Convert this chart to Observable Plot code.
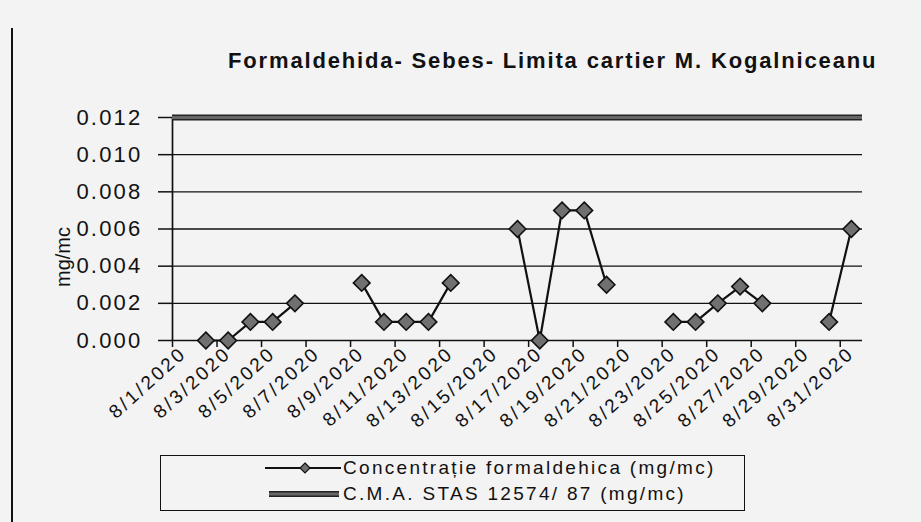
<!DOCTYPE html>
<html>
<head>
<meta charset="utf-8">
<script src="https://cdn.jsdelivr.net/npm/d3@7"></script>
<script src="https://cdn.jsdelivr.net/npm/@observablehq/plot@0.6"></script>
<style>
  html, body { margin: 0; padding: 0; background: #f3f3f3; }
  #page { position: relative; width: 921px; height: 522px; overflow: hidden; font-family: "Liberation Sans", Arial, sans-serif; color: #111; }
  #border { position: absolute; left: 11px; top: 28px; height: 494px; border-left: 2px solid #111; }
  #title { position: absolute; left: 228px; top: 48px; font-weight: bold; font-size: 22px; letter-spacing: 1.85px; white-space: nowrap; }
  #chart { position: absolute; left: 0; top: 80px; }
  #legend { position: absolute; left: 160px; top: 455px; width: 585px; height: 56px; border: 1.5px solid #111; box-sizing: border-box; }
  .row { position: absolute; left: 104px; height: 24px; display: flex; align-items: center; font-size: 19px; letter-spacing: 2.3px; white-space: nowrap; }
  .row svg { margin-right: 2px; }
  #chart g[aria-label="y-axis tick label"] text { letter-spacing: 2.2px; }
  #chart g[aria-label="x-axis tick label"] text { letter-spacing: 2.8px; }
</style>
</head>
<body>
<div id="page">
  <div id="border"></div>
  <div id="title"></div>
  <div id="chart"></div>
  <div id="legend"></div>
</div>
<script>
// ---- data ----
const title = "Formaldehida- Sebes- Limita cartier M. Kogalniceanu";
const yLabel = "mg/mc";
const dates = [
  "8/1/2020","8/2/2020","8/3/2020","8/4/2020","8/5/2020","8/6/2020","8/7/2020","8/8/2020",
  "8/9/2020","8/10/2020","8/11/2020","8/12/2020","8/13/2020","8/14/2020","8/15/2020","8/16/2020",
  "8/17/2020","8/18/2020","8/19/2020","8/20/2020","8/21/2020","8/22/2020","8/23/2020","8/24/2020",
  "8/25/2020","8/26/2020","8/27/2020","8/28/2020","8/29/2020","8/30/2020","8/31/2020"
];
const concentration = [
  null, 0.000, 0.000, 0.001, 0.001, 0.002, null, null,
  0.0031, 0.001, 0.001, 0.001, 0.0031, null, null, 0.006,
  0.000, 0.007, 0.007, 0.003, null, null, 0.001, 0.001,
  0.002, 0.0029, 0.002, null, null, 0.001, 0.006
];
const cmaLimit = 0.012;
const yTicks = [0, 0.002, 0.004, 0.006, 0.008, 0.010, 0.012];
const xTickLabels = [
  "8/1/2020","8/3/2020","8/5/2020","8/7/2020","8/9/2020","8/11/2020","8/13/2020","8/15/2020",
  "8/17/2020","8/19/2020","8/21/2020","8/23/2020","8/25/2020","8/27/2020","8/29/2020","8/31/2020"
];
const seriesNames = ["Concentrație formaldehica (mg/mc)", "C.M.A. STAS 12574/ 87 (mg/mc)"];

// ---- build ----
const dayOf = s => +s.split("/")[1];
const rows = dates.map((d, i) => ({day: dayOf(d), value: concentration[i]}));
const labelDays = xTickLabels.map(dayOf);
const boundaries = labelDays.map(d => d - 0.5);
const firstDay = dayOf(dates[0]), lastDay = dayOf(dates[dates.length - 1]);

document.getElementById("title").textContent = title;

const chart = Plot.plot({
  width: 921,
  height: 365,
  marginLeft: 172,
  marginRight: 59,
  marginTop: 37,
  marginBottom: 105,
  x: {type: "linear", domain: [firstDay - 0.5, lastDay + 0.5]},
  y: {domain: [yTicks[0], yTicks[yTicks.length - 1]]},
  style: {background: "transparent", fontFamily: "'Liberation Sans', Arial, sans-serif", color: "#111", overflow: "visible"},
  marks: [
    Plot.ruleY(yTicks.slice(1, -1), {stroke: "#111", strokeWidth: 1.4}),
    Plot.ruleY([yTicks[0]], {stroke: "#111", strokeWidth: 1.7}),
    Plot.ruleX([firstDay - 0.5], {y1: yTicks[0], y2: yTicks[yTicks.length - 1], stroke: "#111", strokeWidth: 1.7}),
    Plot.axisY({ticks: yTicks, tickFormat: d3.format(".3f"), tickSize: 14, tickPadding: 16, fontSize: 22, label: null, anchor: "left", strokeWidth: 1.5}),
    Plot.axisX({ticks: boundaries, tickFormat: () => "", tickSize: 7, label: null, strokeWidth: 1.5}),
    Plot.axisX({ticks: labelDays, tickFormat: d => xTickLabels[labelDays.indexOf(d)], tickSize: 0, tickPadding: 10, tickRotate: -42, fontSize: 19, label: null}),
    Plot.ruleY([cmaLimit], {stroke: "#222", strokeWidth: 6}),
    Plot.ruleY([cmaLimit], {stroke: "#666", strokeWidth: 3}),
    Plot.line(rows, {x: "day", y: "value", stroke: "#111", strokeWidth: 2.2}),
    Plot.dot(rows.filter(d => d.value != null), {x: "day", y: "value", symbol: "diamond2", r: 7.5, fill: "#707070", stroke: "#111", strokeWidth: 1.6}),
    Plot.text([yLabel], {frameAnchor: "left", textAnchor: "middle", rotate: -90, dx: -109, dy: 28, fontSize: 20})
  ]
});
document.getElementById("chart").appendChild(chart);

// legend
const legend = d3.select("#legend");
const r1 = legend.append("div").attr("class", "row").style("top", "0px");
const s1 = r1.append("svg").attr("width", 76).attr("height", 24);
s1.append("line").attr("x1", 0).attr("x2", 76).attr("y1", 12).attr("y2", 12).attr("stroke", "#111").attr("stroke-width", 2);
s1.append("path").attr("d", "M40,7L45,12L40,17L35,12Z").attr("fill", "#707070").attr("stroke", "#111").attr("stroke-width", 1.2);
r1.append("span").text(seriesNames[0]);
const r2 = legend.append("div").attr("class", "row").style("top", "26px");
const s2 = r2.append("svg").attr("width", 76).attr("height", 24);
s2.append("line").attr("x1", 4).attr("x2", 74).attr("y1", 12).attr("y2", 12).attr("stroke", "#222").attr("stroke-width", 6);
s2.append("line").attr("x1", 4).attr("x2", 74).attr("y1", 12).attr("y2", 12).attr("stroke", "#666").attr("stroke-width", 3);
r2.append("span").text(seriesNames[1]);
</script>
</body>
</html>
